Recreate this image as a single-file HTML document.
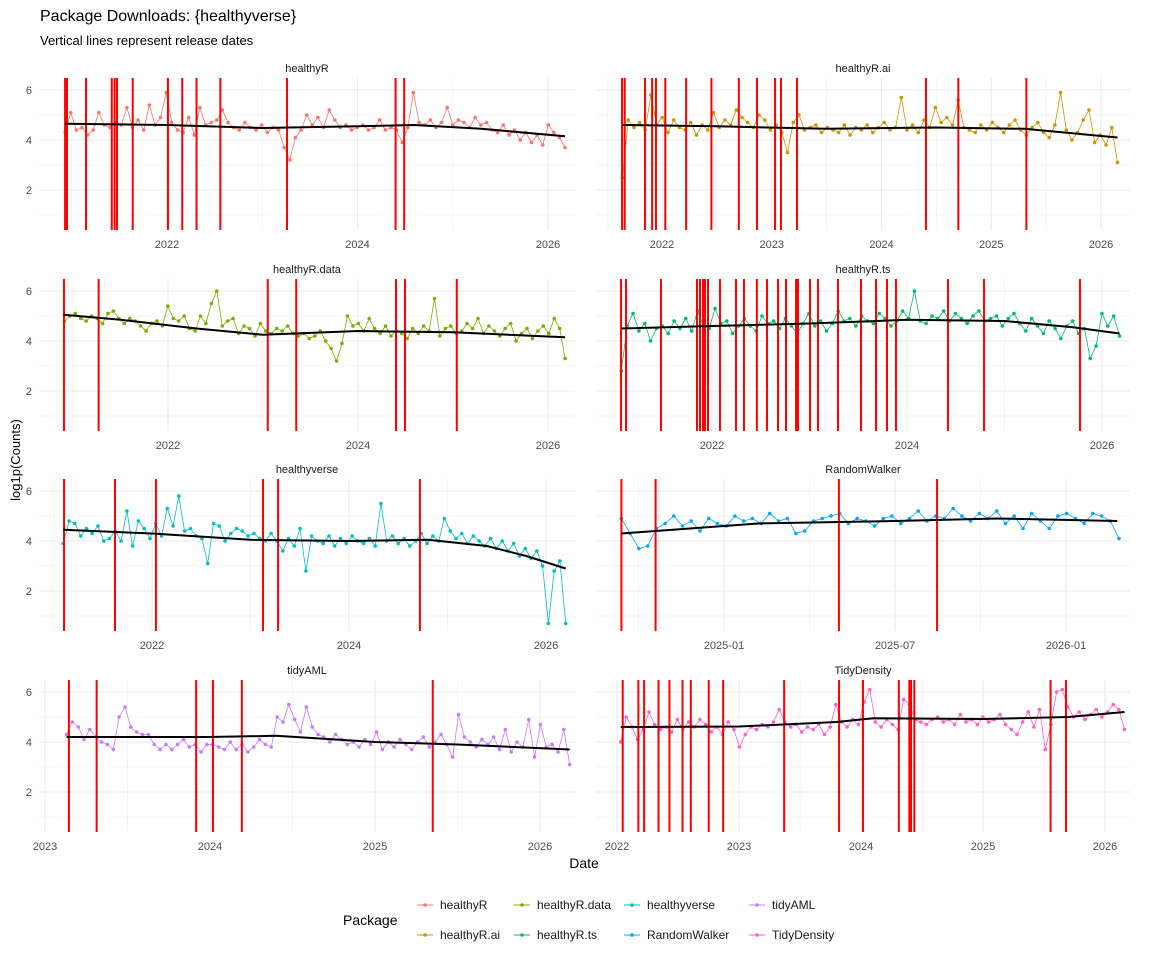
<!DOCTYPE html>
<html><head><meta charset="utf-8">
<style>
html,body{margin:0;padding:0;background:#fff;}
svg{display:block;font-family:"Liberation Sans",Arial,sans-serif;}
</style></head>
<body>
<svg id="chart" width="1152" height="960" viewBox="0 0 1152 960" xmlns="http://www.w3.org/2000/svg">
<rect x="0" y="0" width="1152" height="960" fill="#fff"/>
<text x="40" y="21" font-size="16" fill="#000">Package Downloads: {healthyverse}</text>
<text x="40" y="45" font-size="13" fill="#000">Vertical lines represent release dates</text>
<text transform="translate(20,460) rotate(-90)" text-anchor="middle" font-size="13" fill="#000">log1p(Counts)</text>
<text x="584" y="868" text-anchor="middle" font-size="14" fill="#000">Date</text>
<g id="panels"></g>
<g id="legend">
<text x="343" y="925" font-size="14" fill="#000">Package</text>
</g>
</svg>
<script>
// ---- data ----
const packages = ["healthyR","healthyR.ai","healthyR.data","healthyR.ts","healthyverse","RandomWalker","tidyAML","TidyDensity"];
const colors = ["#F8766D","#CD9600","#7CAE00","#00BE67","#00BFC4","#00A9FF","#C77CFF","#FF61CC"];
const startDates = [2020.93,2021.64,2020.91,2021.07,2021.10,2024.70,2023.13,2022.03];
const endDates = [2026.18,2026.15,2026.18,2026.18,2026.20,2026.155,2026.18,2026.16];

const valsHealthyR = [4.3,5.1,4.4,4.5,4.2,4.4,5.1,4.6,4.5,4.7,4.6,5.3,4.5,4.8,4.4,5.4,4.6,4.9,5.9,4.7,4.4,4.3,4.9,4.2,5.3,4.6,4.7,4.8,5.2,4.7,4.5,4.4,4.7,4.5,4.4,4.6,4.3,4.5,4.4,3.7,3.2,4.1,4.4,5.0,4.6,4.9,4.5,5.2,4.8,4.5,4.6,4.4,4.5,4.6,4.4,4.5,4.8,4.4,4.5,4.4,3.9,4.5,5.9,4.7,4.6,4.8,4.5,4.7,5.3,4.6,4.8,4.7,4.5,4.9,4.6,4.7,4.4,4.3,4.6,4.2,4.4,4.0,4.3,3.9,4.2,3.8,4.6,4.3,4.1,3.7];
const valsHealthyRai = [2.5,4.8,4.5,4.7,4.4,5.8,4.6,4.9,4.3,4.8,4.5,4.4,4.7,4.2,4.6,4.4,5.1,4.5,4.8,4.6,5.2,4.9,4.7,4.5,5.0,4.8,4.4,4.6,4.3,3.5,4.7,5.0,4.4,4.5,4.6,4.3,4.5,4.4,4.3,4.6,4.2,4.5,4.4,4.6,4.3,4.5,4.7,4.4,4.5,5.7,4.4,4.6,4.3,4.8,4.5,5.3,4.7,4.9,4.6,5.6,4.5,4.4,4.3,4.6,4.4,4.7,4.5,4.3,4.6,4.8,4.4,4.2,4.5,4.7,4.3,4.1,4.6,5.9,4.4,4.0,4.3,4.8,5.2,3.9,4.2,3.8,4.5,3.1];
const valsHealthyRdata = [4.8,5.0,5.1,4.9,4.8,5.0,4.9,4.7,5.1,5.2,4.9,4.7,4.9,4.8,4.6,4.4,4.7,4.8,4.6,5.4,4.9,4.8,5.0,4.5,4.4,5.0,4.7,5.5,6.0,4.6,4.8,4.9,4.3,4.6,4.5,4.2,4.7,4.4,4.3,4.5,4.4,4.6,4.3,4.2,4.3,4.1,4.2,4.4,4.0,3.7,3.2,3.9,5.0,4.6,4.7,4.4,4.9,4.5,4.3,4.6,4.2,4.4,4.3,4.1,4.5,4.3,4.6,4.4,5.7,4.2,4.5,4.6,4.3,4.4,4.7,4.5,4.9,4.3,4.6,4.4,4.2,4.5,4.7,4.0,4.3,4.5,4.1,4.4,4.6,4.3,4.9,4.5,3.3];
const valsHealthyRts = [2.8,4.6,5.1,4.4,4.7,4.0,4.5,4.6,4.3,4.8,4.5,4.9,4.4,5.2,4.6,4.5,5.3,4.7,4.8,4.3,4.6,4.9,4.6,4.4,5.0,4.7,4.8,4.5,4.9,4.6,4.3,4.7,5.1,4.6,4.8,4.4,4.7,5.2,4.8,4.9,4.6,5.0,4.8,4.7,5.1,4.9,4.6,4.8,5.2,4.9,6.0,4.8,4.7,5.0,4.9,5.2,4.8,5.1,4.9,4.7,5.0,5.2,4.8,4.9,5.0,4.6,4.9,5.1,4.7,4.4,4.9,4.6,4.3,4.8,4.5,4.1,4.6,4.8,4.3,4.5,3.3,3.8,5.1,4.6,5.0,4.2];
const valsHealthyverse = [3.9,4.8,4.7,4.2,4.5,4.3,4.6,4.0,4.1,4.4,4.0,5.2,3.8,4.8,4.5,4.1,4.7,4.2,5.3,4.6,5.8,4.4,4.5,4.2,4.1,3.1,4.7,4.6,4.0,4.3,4.5,4.4,4.2,4.3,4.1,4.0,4.3,4.0,3.6,4.1,3.8,4.5,2.8,4.2,4.0,3.9,4.2,3.8,4.1,3.9,4.2,4.0,3.9,4.1,3.8,5.5,4.0,4.2,3.9,4.1,3.8,4.0,4.3,3.9,4.2,4.0,4.9,4.4,4.1,4.3,3.9,4.2,4.0,3.8,4.1,3.7,4.0,3.6,3.9,3.4,3.7,3.3,3.6,3.0,0.7,2.8,3.2,0.7];
const valsRandomWalker = [4.9,4.3,3.7,3.8,4.5,4.7,5.0,4.6,4.8,4.4,4.9,4.7,4.6,5.0,4.8,4.9,4.7,5.1,4.8,4.9,4.3,4.4,4.8,4.9,5.0,5.1,4.7,4.9,4.8,4.6,4.9,5.0,4.7,4.9,5.2,4.8,5.0,4.9,5.3,5.0,4.8,5.1,4.9,5.2,4.7,5.0,4.5,5.1,4.8,4.5,5.0,5.1,4.9,4.7,5.1,5.0,4.8,4.1];
const valsTidyAML = [4.3,4.8,4.6,4.1,4.5,4.2,4.0,3.9,3.7,5.0,5.4,4.6,4.4,4.3,4.3,3.9,3.7,3.9,3.7,3.9,4.1,3.8,3.9,3.6,3.9,3.9,3.8,3.7,4.0,3.7,3.9,3.6,3.8,4.1,3.9,3.8,5.0,4.8,5.5,4.9,4.4,5.4,4.6,4.3,4.2,4.0,4.3,4.1,3.9,4.0,3.8,4.1,3.9,4.4,3.7,4.0,3.8,4.1,3.9,3.7,4.0,4.2,3.8,4.0,4.3,3.9,3.4,5.1,4.2,4.0,3.8,4.1,3.9,4.2,3.7,4.5,3.6,4.0,3.8,4.9,3.4,4.7,3.8,3.9,3.6,4.5,3.1];
const valsTidyDensity = [4.0,5.0,4.6,4.1,4.5,5.2,4.7,4.5,4.6,4.4,4.9,4.5,4.8,4.6,4.9,4.7,4.4,4.6,4.3,4.8,4.5,3.8,4.3,4.6,4.5,4.7,4.6,4.8,5.3,4.8,4.6,4.7,4.4,4.6,4.5,4.7,4.3,4.6,5.5,4.8,4.6,4.9,4.7,5.6,6.1,4.8,4.6,4.9,4.7,4.5,5.7,5.5,4.9,4.8,4.7,4.9,5.0,4.8,4.9,4.7,5.1,4.8,4.9,4.7,5.0,4.8,4.9,5.1,4.7,4.5,4.3,4.8,5.2,4.6,5.3,3.7,4.7,6.0,6.1,5.4,5.0,5.2,4.9,5.1,5.3,5.0,5.2,5.5,5.3,4.5];

const releasesHealthyR = [2020.93,2020.95,2021.15,2021.42,2021.45,2021.475,2021.64,2022.01,2022.16,2022.31,2022.56,2023.26,2024.40,2024.49];
const releasesHealthyRai = [2021.636,2021.66,2021.845,2021.91,2021.945,2022.03,2022.22,2022.45,2022.70,2022.866,2023.03,2023.084,2023.23,2024.405,2024.70,2025.32];
const releasesHealthyRdata = [2020.905,2021.27,2023.05,2023.35,2024.40,2024.495,2025.04];
const releasesHealthyRts = [2021.067,2021.118,2021.477,2021.846,2021.877,2021.908,2021.928,2021.959,2022.082,2022.246,2022.328,2022.46,2022.564,2022.677,2022.759,2022.862,2022.882,2023.005,2023.087,2023.292,2023.528,2023.682,2023.795,2023.887,2024.42,2024.79,2025.774];
const releasesHealthyverse = [2021.107,2021.624,2022.04,2023.127,2023.28,2024.72];
const releasesRandomWalker = [2024.70,2024.80,2025.336,2025.623];
const releasesTidyAML = [2023.145,2023.313,2023.916,2024.018,2024.193,2025.35];
const releasesTidyDensity = [2022.047,2022.175,2022.222,2022.34,2022.43,2022.537,2022.605,2022.752,2022.87,2023.37,2023.82,2024.016,2024.31,2024.396,2024.41,2024.437,2025.554,2025.68];

const smoothYearsHealthyR = [2020.93,2022,2023,2024,2024.6,2025.3,2026.18];
const smoothValsHealthyR = [4.65,4.6,4.48,4.55,4.6,4.45,4.15];
const smoothYearsHealthyRai = [2021.64,2022.5,2023.5,2024.5,2025.3,2026.15];
const smoothValsHealthyRai = [4.6,4.55,4.45,4.5,4.45,4.1];
const smoothYearsHealthyRdata = [2020.9,2021.5,2022.3,2023,2024,2025,2026.18];
const smoothValsHealthyRdata = [5.05,4.85,4.5,4.25,4.4,4.35,4.15];
const smoothYearsHealthyRts = [2021.07,2022,2023,2024,2025,2025.7,2026.18];
const smoothValsHealthyRts = [4.5,4.6,4.7,4.85,4.8,4.55,4.3];
const smoothYearsHealthyverse = [2021.1,2022,2023,2024,2024.8,2025.4,2025.8,2026.2];
const smoothValsHealthyverse = [4.45,4.3,4.05,4.0,4.05,3.8,3.4,2.9];
const smoothYearsRandomWalker = [2024.7,2024.9,2025.1,2025.5,2025.8,2026.15];
const smoothValsRandomWalker = [4.3,4.5,4.7,4.8,4.9,4.8];
const smoothYearsTidyAML = [2023.13,2024,2024.4,2025,2025.5,2026.18];
const smoothValsTidyAML = [4.2,4.2,4.25,4.0,3.9,3.7];
const smoothYearsTidyDensity = [2022.03,2023,2023.8,2024.1,2025,2025.7,2026.16];
const smoothValsTidyDensity = [4.6,4.62,4.8,4.95,4.92,5.0,5.2];

const yTicks = [2,4,6];
const yMinor = [1,3,5];
const tickYearsBiennial = [2022,2024,2026];
const tickYearsAnnual2022 = [2022,2023,2024,2025,2026];
const tickYearsAnnual2023 = [2023,2024,2025,2026];
const tickYearsRW = [2025,2025.5,2026];
const tickLabelsRW = ["2025-01","2025-07","2026-01"];

// ---- layout (calibration, not data) ----
const allVals = [valsHealthyR,valsHealthyRai,valsHealthyRdata,valsHealthyRts,valsHealthyverse,valsRandomWalker,valsTidyAML,valsTidyDensity];
const allRel = [releasesHealthyR,releasesHealthyRai,releasesHealthyRdata,releasesHealthyRts,releasesHealthyverse,releasesRandomWalker,releasesTidyAML,releasesTidyDensity];
const allSY = [smoothYearsHealthyR,smoothYearsHealthyRai,smoothYearsHealthyRdata,smoothYearsHealthyRts,smoothYearsHealthyverse,smoothYearsRandomWalker,smoothYearsTidyAML,smoothYearsTidyDensity];
const allSV = [smoothValsHealthyR,smoothValsHealthyRai,smoothValsHealthyRdata,smoothValsHealthyRts,smoothValsHealthyverse,smoothValsRandomWalker,smoothValsTidyAML,smoothValsTidyDensity];
const cal = [[2022,167,2026,548],[2022,662,2026,1101],[2022,168,2026,548],[2022,712,2026,1102],[2022,152,2026,546],[2025,724,2026,1066],[2023,45,2026,540],[2022,617,2026,1105]];
const tickSets = [tickYearsBiennial,tickYearsAnnual2022,tickYearsBiennial,tickYearsBiennial,tickYearsBiennial,tickYearsRW,tickYearsAnnual2023,tickYearsAnnual2022];
const minorStep = [2,1,2,2,2,0.5,1,1];

const NS = "http://www.w3.org/2000/svg";
const root = document.getElementById("panels");
function mk(tag, attrs, parent){
  const e = document.createElementNS(NS, tag);
  for (const k in attrs) e.setAttribute(k, attrs[k]);
  parent.appendChild(e);
  return e;
}
const rowY6 = [90,291,491,692];

packages.forEach((name, i) => {
  const col = i % 2, row = Math.floor(i / 2);
  const x0 = col === 0 ? 39 : 596, x1 = col === 0 ? 575 : 1130;
  const y6 = rowY6[row];
  const top = y6 - 12, bot = y6 + 140;
  const c = cal[i];
  const xs = yr => c[1] + (yr - c[0]) * (c[3] - c[1]) / (c[2] - c[0]);
  const ys = v => y6 + (6 - v) * 25;
  const g = mk("g", {}, root);
  
  

  yMinor.forEach(v => {
    const l = mk("line",{x1:x0,x2:x1,y1:ys(v),y2:ys(v),stroke:"#f0f0f0","stroke-width":0.7},g);
    
    
  });
  yTicks.forEach(v => {
    const l = mk("line",{x1:x0,x2:x1,y1:ys(v),y2:ys(v),stroke:"#ebebeb","stroke-width":1.1},g);
    
    
    if (col === 0) {
      const t = mk("text",{x:32,y:ys(v)+4,"text-anchor":"end","font-size":11,fill:"#4d4d4d"},g);
      t.textContent = v;
      
      
    }
  });
  const ticks = tickSets[i];
  const step = minorStep[i];
  const minors = [];
  for (let k = -2; k < ticks.length + 1; k++) minors.push(ticks[0] + step * (k + 0.5));
  minors.forEach(yr => {
    const x = xs(yr);
    if (x < x0 || x > x1) return;
    const l = mk("line",{x1:x,x2:x,y1:top,y2:bot,stroke:"#f0f0f0","stroke-width":0.7},g);
    
    
  });
  ticks.forEach((yr, k) => {
    const x = xs(yr);
    if (x < x0 - 8 || x > x1) return;
    const l = mk("line",{x1:x,x2:x,y1:top,y2:bot,stroke:"#ebebeb","stroke-width":1.1},g);
    
    
    const t = mk("text",{x:x,y:bot+18,"text-anchor":"middle","font-size":11,fill:"#4d4d4d"},g);
    t.textContent = (i === 5) ? tickLabelsRW[k] : yr;
    
    
  });
  const st = mk("text",{x:(x0+x1)/2,y:top-6,"text-anchor":"middle","font-size":11,fill:"#1a1a1a"},g);
  st.textContent = name;
  
  

  const vals = allVals[i];
  const n = vals.length;
  const sd = startDates[i], ed = endDates[i];
  const pts = vals.map((v, k) => [xs(sd + (ed - sd) * k / (n - 1)), ys(v)]);
  const pl = mk("polyline",{points:pts.map(p=>p[0].toFixed(1)+","+p[1].toFixed(1)).join(" "),fill:"none",stroke:colors[i],"stroke-width":0.8},g);
  
  
  pts.forEach(p => {
    const cc = mk("circle",{cx:p[0].toFixed(1),cy:p[1].toFixed(1),r:1.8,fill:colors[i]},g);
    
    
  });
  allRel[i].forEach(yr => {
    const x = xs(yr);
    const l = mk("line",{x1:x,x2:x,y1:top,y2:bot,stroke:"#ff0000","stroke-width":2},g);
    
    
  });
  const sy = allSY[i], sv = allSV[i];
  const sp = mk("polyline",{points:sy.map((yr,k)=>xs(yr).toFixed(1)+","+ys(sv[k]).toFixed(1)).join(" "),fill:"none",stroke:"#000","stroke-width":2,"stroke-linejoin":"round"},g);
  
  
});

const leg = document.getElementById("legend");
const legCols = [425,522,632,757];
const legRows = [905,935];
packages.forEach((name, i) => {
  const cx = legCols[Math.floor(i/2)], cy = legRows[i%2];
  const g = mk("g",{},leg);
  
  
  mk("line",{x1:cx-8,x2:cx+8,y1:cy,y2:cy,stroke:colors[i],"stroke-width":1},g);
  mk("circle",{cx:cx,cy:cy,r:1.8,fill:colors[i]},g);
  const t = mk("text",{x:cx+15,y:cy+4,"font-size":12,fill:"#1a1a1a"},g);
  t.textContent = name;
});
</script>
</body></html>
